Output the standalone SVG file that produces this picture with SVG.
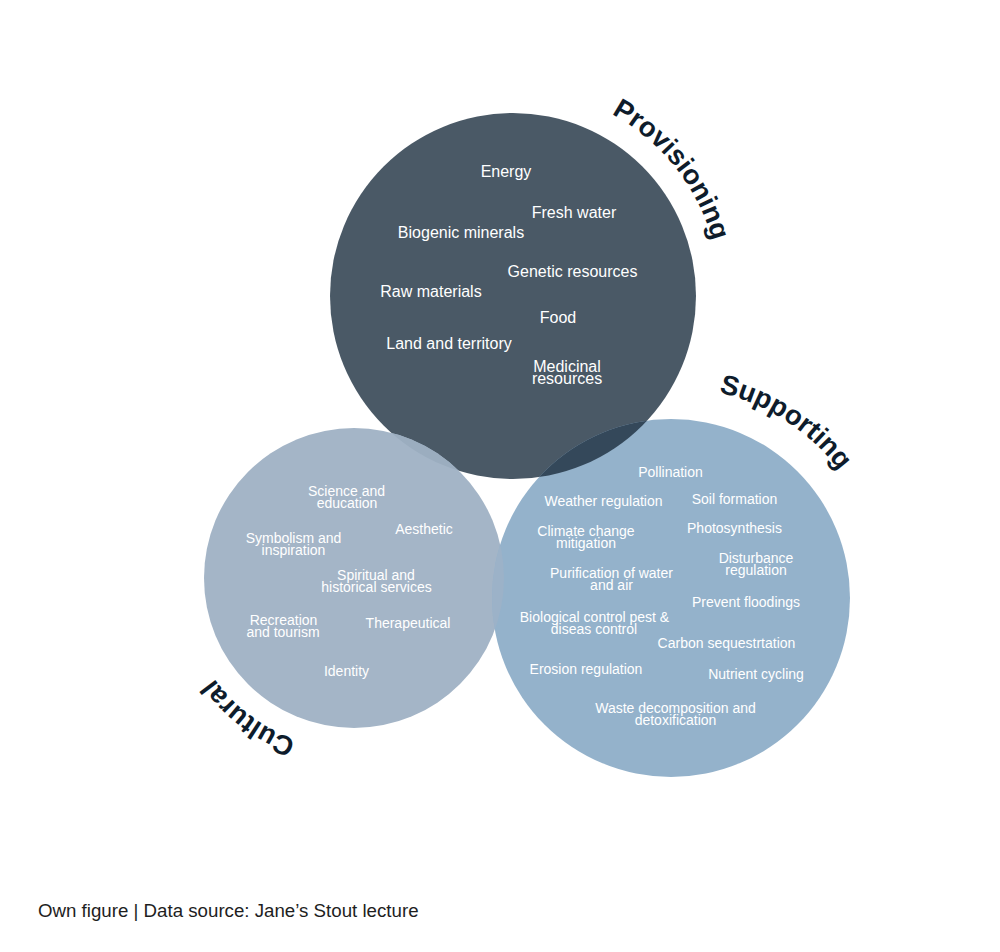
<svg xmlns="http://www.w3.org/2000/svg" width="1000" height="952" viewBox="0 0 1000 952">
<style>
.t{font-family:"Liberation Sans",Arial,sans-serif;fill:#ffffff;text-anchor:middle}
.p{font-size:16px}
.s{font-size:14px}
.lbl{font-family:"Liberation Sans",Arial,sans-serif;font-weight:bold;font-size:27.5px;fill:#0e1c2b}
.foot{font-family:"Liberation Sans",Arial,sans-serif;font-size:18.7px;fill:#1e1e1e}
</style>
<defs>
<clipPath id="cpProv"><circle cx="513" cy="296" r="183"/></clipPath>
<clipPath id="cpCult"><circle cx="354" cy="578" r="150"/></clipPath>
<path id="arcProv" d="M518.4,89.1 A207,207 0 0 1 715.8,337.3" fill="none"/>
<path id="arcSupp" d="M609.3,396.2 A211,211 0 0 1 880.4,572.3" fill="none"/>
<path id="arcCult" d="M392.7,745.6 A172,172 0 0 1 182.2,587.0" fill="none"/>
</defs>
<rect width="1000" height="952" fill="#ffffff"/>
<g id="provisioning">
<circle cx="513" cy="296" r="183" fill="#4a5966"/>
</g>
<g id="cultural">
<circle cx="354" cy="578" r="150" fill="#a4b5c7"/>
<circle cx="354" cy="578" r="150" fill="#9badbf" clip-path="url(#cpProv)"/>
</g>
<g id="supporting">
<circle cx="671" cy="598" r="179" fill="#94b2cb"/>
<circle cx="671" cy="598" r="179" fill="#34485a" clip-path="url(#cpProv)"/>
<circle cx="671" cy="598" r="179" fill="#9cb2c8" clip-path="url(#cpCult)"/>
</g>
<g id="provisioning-items" class="t p">
<text x="506" y="177">Energy</text>
<text x="574" y="218">Fresh water</text>
<text x="461" y="238">Biogenic minerals</text>
<text x="572.5" y="277">Genetic resources</text>
<text x="431" y="297">Raw materials</text>
<text x="558" y="323">Food</text>
<text x="449" y="349">Land and territory</text>
<text x="567" y="372">Medicinal</text>
<text x="567" y="384">resources</text>
</g>
<g id="cultural-items" class="t s">
<text x="346.5" y="495.5">Science and</text>
<text x="347" y="507.5">education</text>
<text x="424" y="534">Aesthetic</text>
<text x="293.5" y="542.5">Symbolism and</text>
<text x="293.5" y="554.5">inspiration</text>
<text x="376" y="579.5">Spiritual and</text>
<text x="376.5" y="591.5">historical services</text>
<text x="283.5" y="624.5">Recreation</text>
<text x="283" y="636.5">and tourism</text>
<text x="408" y="628">Therapeutical</text>
<text x="346.5" y="676">Identity</text>
</g>
<g id="supporting-items" class="t s">
<text x="670.5" y="477">Pollination</text>
<text x="603.5" y="506">Weather regulation</text>
<text x="734.5" y="504">Soil formation</text>
<text x="586" y="535.5">Climate change</text>
<text x="586" y="547.5">mitigation</text>
<text x="734.5" y="533">Photosynthesis</text>
<text x="756" y="562.5">Disturbance</text>
<text x="756" y="574.5">regulation</text>
<text x="611.5" y="577.5">Purification of water</text>
<text x="611.5" y="589.5">and air</text>
<text x="746" y="607">Prevent floodings</text>
<text x="594.5" y="621.5">Biological control pest &amp;</text>
<text x="594" y="633.5">diseas control</text>
<text x="726.5" y="648">Carbon sequestrtation</text>
<text x="586" y="674">Erosion regulation</text>
<text x="756" y="679">Nutrient cycling</text>
<text x="675.5" y="712.5">Waste decomposition and</text>
<text x="675.5" y="724.5">detoxification</text>
</g>
<g id="labels">
<text class="lbl"><textPath href="#arcProv" startOffset="50%" text-anchor="middle">Provisioning</textPath></text>
<text class="lbl"><textPath href="#arcSupp" startOffset="50%" text-anchor="middle">Supporting</textPath></text>
<text class="lbl"><textPath href="#arcCult" startOffset="50%" text-anchor="middle">Cultural</textPath></text>
</g>
<g id="footer">
<text class="foot" x="38" y="917">Own figure | Data source: Jane’s Stout lecture</text>
</g>
</svg>
